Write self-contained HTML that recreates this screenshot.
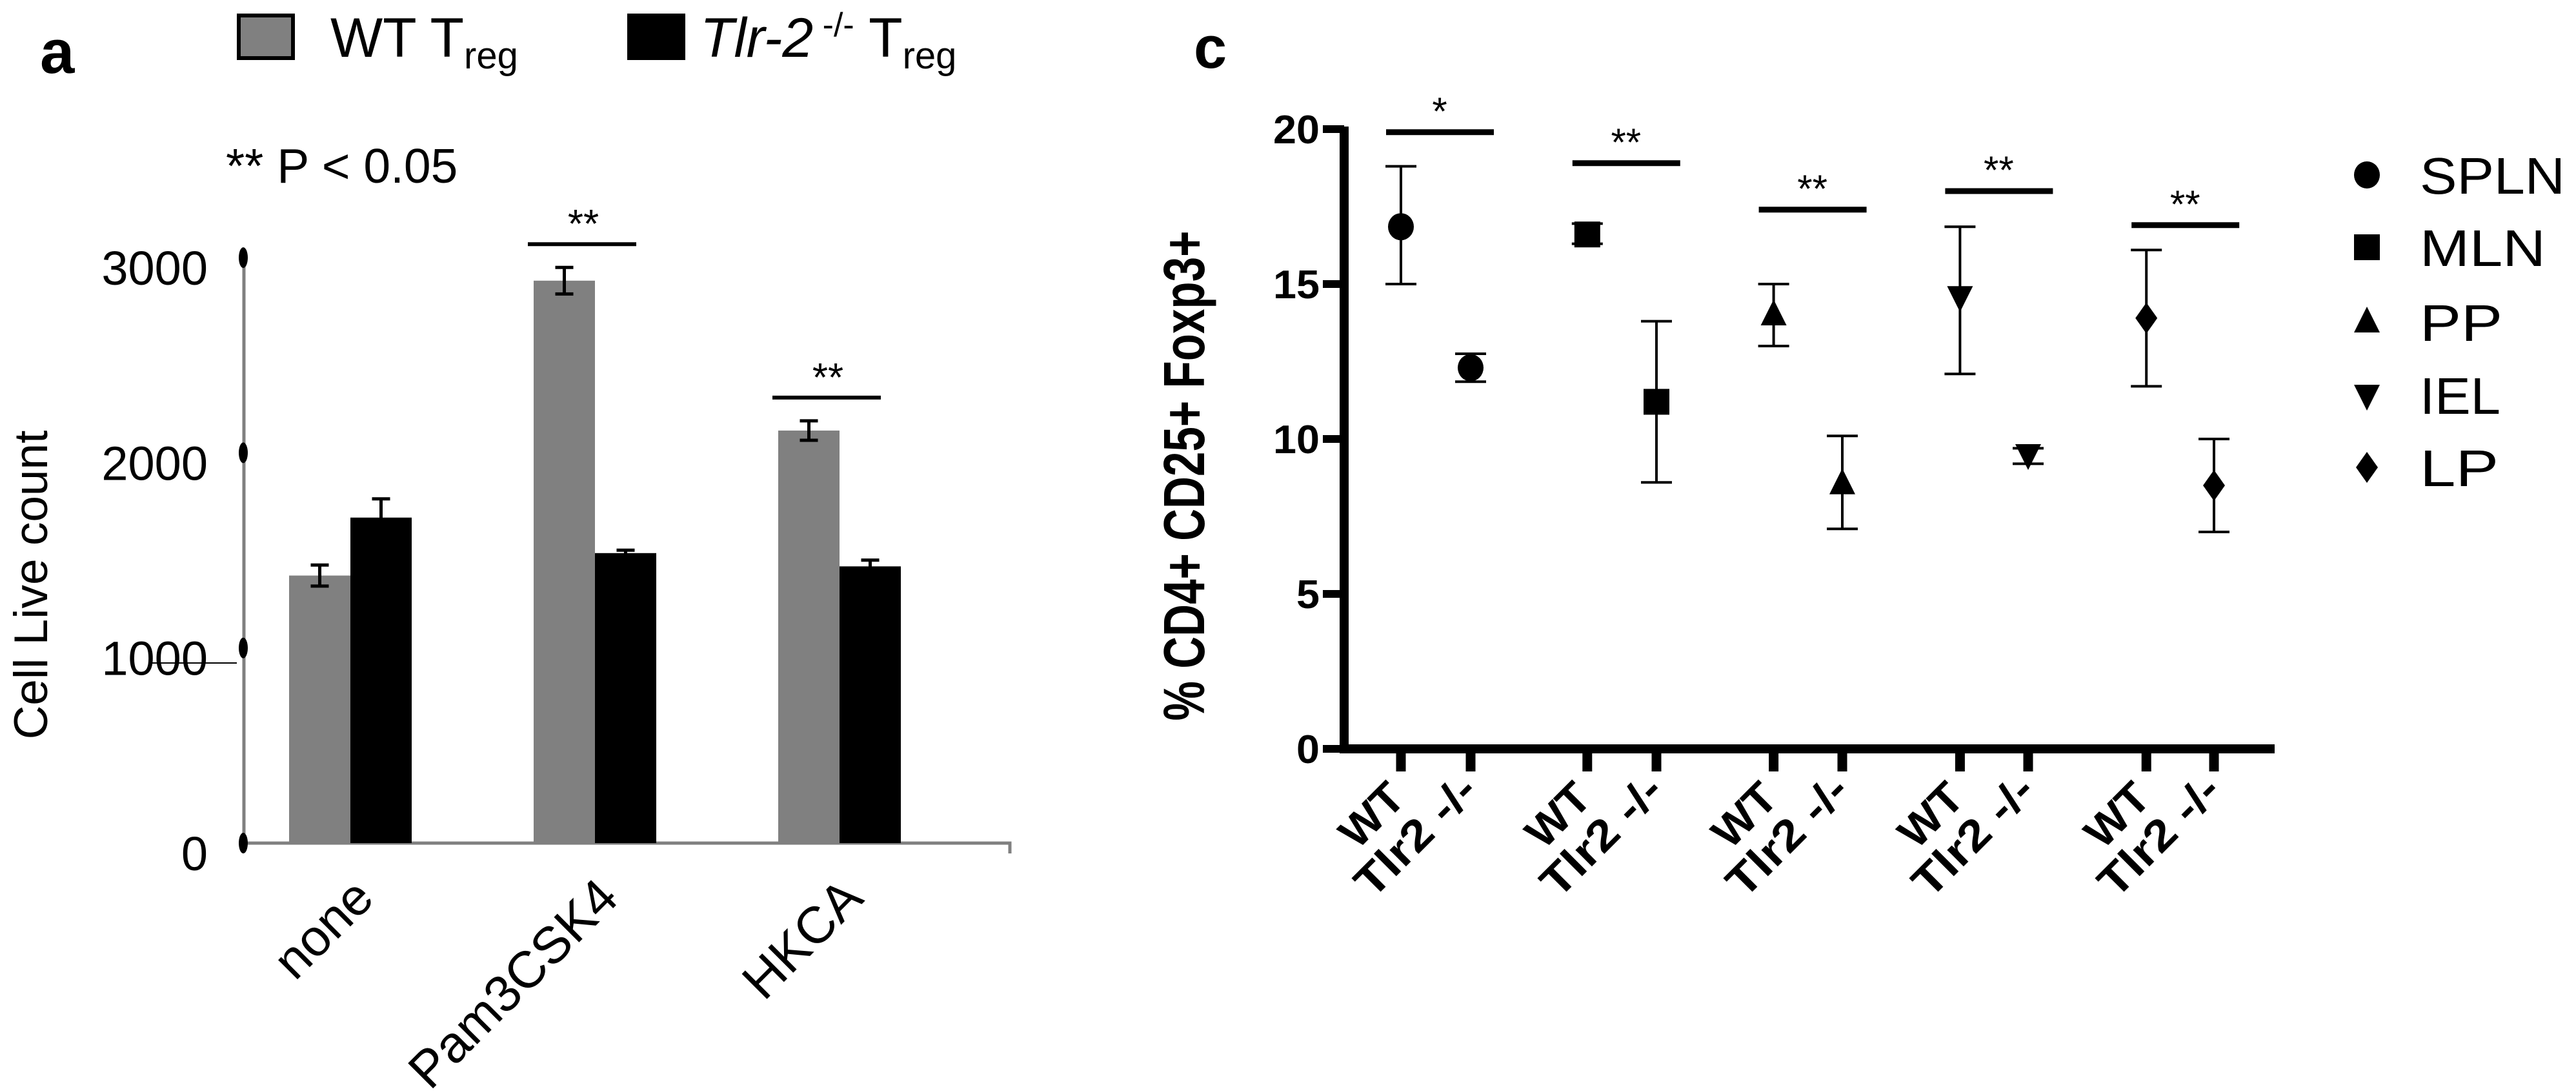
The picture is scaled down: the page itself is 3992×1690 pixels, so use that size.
<!DOCTYPE html>
<html><head><meta charset="utf-8"><style>
html,body{margin:0;padding:0;background:#fff;overflow:hidden;}
svg{display:block;}
text{font-family:"Liberation Sans",sans-serif;}
</style></head><body>
<svg id="fig" width="3992" height="1690" viewBox="0 0 3992 1690" xmlns="http://www.w3.org/2000/svg">
<g id="pa"></g>
<g id="pc"></g>
</svg>
<script>
// ---------- Panel A data ----------
const aCategories = ["none", "Pam3CSK4", "HKCA"];
const aWT = [1371, 2882, 2114];
const aWTerr = [54, 68, 50];
const aKO = [1668, 1486, 1418];
const aKOerr = [96, 15, 32];
const aTicks = [0, 1000, 2000, 3000];
const aSig = [null, "**", "**"];

// ---------- Panel C data ----------
const cGroups = ["SPLN", "MLN", "PP", "IEL", "LP"];
const cWT = [16.85, 16.6, 14.0, 14.6, 13.9];
const cWThi = [18.8, 16.95, 15.0, 16.85, 16.1];
const cWTlo = [15.0, 16.3, 13.0, 12.1, 11.7];
const cKO = [12.3, 11.2, 8.55, 9.5, 8.5];
const cKOhi = [12.75, 13.8, 10.1, 9.7, 10.0];
const cKOlo = [11.85, 8.6, 7.1, 9.2, 7.0];
const cSigY = [19.9, 18.9, 17.4, 18.0, 16.9];
const cSigText = ["*", "**", "**", "**", "**"];
const cTicks = [0, 5, 10, 15, 20];

const NS = "http://www.w3.org/2000/svg";
function mk(parent, tag, attrs, txt) {
  const e = document.createElementNS(NS, tag);
  for (const k in attrs) e.setAttribute(k, attrs[k]);
  if (txt !== undefined) e.textContent = txt;
  parent.appendChild(e);
  return e;
}

// ===== Panel A =====
const pa = document.getElementById("pa");
const ay = v => 1306 - v * 0.3023;
const aGroupX = i => 543 + i * 379;
const bw = 95;

let t = mk(pa, "text", {x: 62, y: 113, "font-size": 96, "font-weight": "bold"}, "a");



let r = mk(pa, "rect", {x: 370, y: 24, width: 84, height: 66, fill: "#808080", stroke: "#000", "stroke-width": 6});


t = mk(pa, "text", {x: 512, y: 88, "font-size": 86});


t.innerHTML = 'WT T<tspan font-size="58" dy="18">reg</tspan>';
r = mk(pa, "rect", {x: 975, y: 24, width: 84, height: 66, fill: "#000", stroke: "#000", "stroke-width": 6});


t = mk(pa, "text", {x: 1085, y: 88, "font-size": 86});


t.innerHTML = '<tspan font-style="italic">Tlr-2</tspan><tspan font-size="52" dy="-32"> -/-</tspan><tspan dy="32"> T</tspan><tspan font-size="58" dy="18">reg</tspan>';

t = mk(pa, "text", {x: 350, y: 283, "font-size": 75}, "** P < 0.05");



let l = mk(pa, "line", {x1: 378, y1: 395, x2: 378, y2: 1308, stroke: "#808080", "stroke-width": 5});


l = mk(pa, "polyline", {points: "376,1306 1565,1306 1565,1322", fill: "none", stroke: "#808080", "stroke-width": 5});


l = mk(pa, "line", {x1: 232, y1: 1027, x2: 367, y2: 1027, stroke: "#000", "stroke-width": 2});



aTicks.forEach(v => {
  const e = mk(pa, "ellipse", {cx: 377, cy: ay(v), rx: 7, ry: 16, fill: "#000"});
  
  
  const tt = mk(pa, "text", {x: 322, y: ay(v) + 42, "font-size": 74, "text-anchor": "end"}, String(v));
  
  
});
t = mk(pa, "text", {x: 0, y: 0, "font-size": 73, "text-anchor": "middle", transform: "translate(73,906) rotate(-90)"}, "Cell Live count");



function errBar(g, x, y1, y2, w, sw, name) {
  const p = mk(g, "path", {d: `M${x-w},${y1}H${x+w}M${x},${y1}V${y2}M${x-w},${y2}H${x+w}`, stroke: "#000", "stroke-width": sw, fill: "none"});
  
  
}

aCategories.forEach((c, i) => {
  const cx = aGroupX(i);
  const b1 = mk(pa, "rect", {x: cx - bw, y: ay(aWT[i]), width: bw, height: ay(0) - ay(aWT[i]), fill: "#808080"});
  
  
  const b2 = mk(pa, "rect", {x: cx, y: ay(aKO[i]), width: bw, height: ay(0) - ay(aKO[i]), fill: "#000"});
  
  
  errBar(pa, cx - bw / 2, ay(aWT[i] + aWTerr[i]), ay(aWT[i] - aWTerr[i]), 14, 5, 'error-bar-wt');
  errBar(pa, cx + bw / 2, ay(aKO[i] + aKOerr[i]), ay(aKO[i] - aKOerr[i]), 14, 5, 'error-bar-ko');
  const lb = mk(pa, "text", {x: 0, y: 0, "font-size": 80, "text-anchor": "end", transform: `translate(${cx + 40},1395) rotate(-45)`}, c);
  
  
  if (aSig[i]) {
    const top = ay(aWT[i] + aWTerr[i]) - 36;
    const sl = mk(pa, "line", {x1: cx - 104, y1: top, x2: cx + 64, y2: top, stroke: "#000", "stroke-width": 6});
    
    
    const st = mk(pa, "text", {x: cx - 18, y: top - 10, "font-size": 62, "text-anchor": "middle"}, aSig[i]);
    
    
  }
});

// ===== Panel C =====
const pc = document.getElementById("pc");
const cy = v => 1160 - v * 48.0;
const cxWT = i => 2171 + i * 288.8;
const cxKO = i => 2279 + i * 288.0;

t = mk(pc, "text", {x: 1850, y: 105, "font-size": 92, "font-weight": "bold"}, "c");



l = mk(pc, "line", {x1: 2083, y1: 196, x2: 2083, y2: 1167, stroke: "#000", "stroke-width": 14});


l = mk(pc, "line", {x1: 2076, y1: 1160, x2: 3525, y2: 1160, stroke: "#000", "stroke-width": 14});



cTicks.forEach(v => {
  const tk = mk(pc, "line", {x1: 2050, y1: cy(v), x2: 2083, y2: cy(v), stroke: "#000", "stroke-width": 12});
  
  
  const s = String(v);
  const tt = mk(pc, "text", {x: 2045, y: cy(v) + 22, "font-size": 62, "font-weight": "bold", "text-anchor": "end", textLength: 36 * s.length, lengthAdjust: "spacingAndGlyphs"}, s);
  
  
});
t = mk(pc, "text", {x: 0, y: 0, "font-size": 90, "font-weight": "bold", "text-anchor": "middle", textLength: 759, lengthAdjust: "spacingAndGlyphs", transform: "translate(1866,737) rotate(-90)"}, "% CD4+ CD25+ Foxp3+");



function marker(g, type, x, y, s, name) {
  let e;
  if (type === 0) e = mk(g, "ellipse", {cx: x, cy: y, rx: s, ry: s * 1.05});
  else if (type === 1) e = mk(g, "rect", {x: x - s, y: y - s, width: 2 * s, height: 2 * s});
  else if (type === 2) e = mk(g, "path", {d: `M${x},${y - s * 1.2}L${x + s},${y + s * 0.8}L${x - s},${y + s * 0.8}Z`});
  else if (type === 3) e = mk(g, "path", {d: `M${x},${y + s * 1.2}L${x + s},${y - s * 0.8}L${x - s},${y - s * 0.8}Z`});
  else e = mk(g, "path", {d: `M${x},${y - s * 1.2}L${x + s * 0.85},${y}L${x},${y + s * 1.2}L${x - s * 0.85},${y}Z`});
  e.setAttribute("fill", "#000");
  
  
}

cGroups.forEach((gname, i) => {
  const xw = cxWT(i), xk = cxKO(i);
  [xw, xk].forEach((x, j) => {
    const tk = mk(pc, "line", {x1: x, y1: 1160, x2: x, y2: 1195, stroke: "#000", "stroke-width": 15});
    
    
    const label = j === 0 ? "WT" : "Tlr2 -/-";
    const len = j === 0 ? 110 : 235;
    const lb = mk(pc, "text", {x: 0, y: 0, "font-size": 68, "font-weight": "bold", "text-anchor": "end", textLength: len, lengthAdjust: "spacingAndGlyphs", transform: `translate(${x + (j === 0 ? 10 : 14)},${j === 0 ? 1240 : 1228}) rotate(-45)`}, label);
    
    
  });
  errBar(pc, xw, cy(cWThi[i]), cy(cWTlo[i]), 24, 4, 'error-bar-wt-' + gname.toLowerCase());
  errBar(pc, xk, cy(cKOhi[i]), cy(cKOlo[i]), 24, 4, 'error-bar-ko-' + gname.toLowerCase());
  marker(pc, i, xw, cy(cWT[i]), 20, 'point-wt-' + gname.toLowerCase());
  marker(pc, i, xk, cy(cKO[i]), 20, 'point-ko-' + gname.toLowerCase());
  const sy = cy(cSigY[i]);
  const sl = mk(pc, "line", {x1: xw - 23, y1: sy, x2: xw + 144, y2: sy, stroke: "#000", "stroke-width": 9});
  
  
  const st = mk(pc, "text", {x: xw + 60, y: sy - 12, "font-size": 60, "text-anchor": "middle"}, cSigText[i]);
  
  
});

// legend
const legY = [271, 383, 499, 612, 724];
const legLen = [225, 195, 128, 125, 122];
cGroups.forEach((gname, i) => {
  marker(pc, i, 3668, legY[i], 20, 'legend-marker-' + gname.toLowerCase());
  const lt = mk(pc, "text", {x: 3750, y: legY[i] + 29, "font-size": 80, textLength: legLen[i], lengthAdjust: "spacingAndGlyphs"}, gname);
  
  
});
</script>
</body></html>
